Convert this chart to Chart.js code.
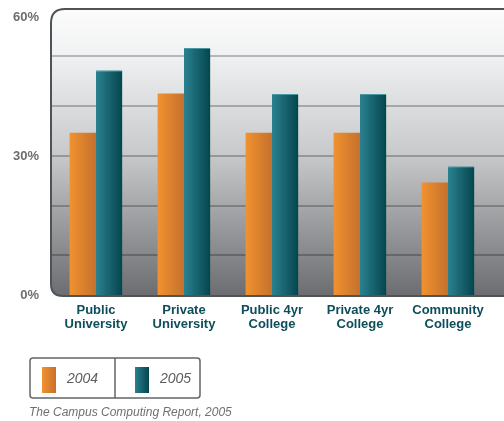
<!DOCTYPE html>
<html>
<head>
<meta charset="utf-8">
<script src="https://cdn.jsdelivr.net/npm/chart.js@4/dist/chart.umd.min.js"></script>
<style>
  html, body { margin: 0; padding: 0; background: #fff; }
  #wrap { width: 504px; height: 421px; position: relative; }
</style>
</head>
<body>
<div id="wrap"><canvas id="chart"></canvas></div>
<script>
// data
const categories = [['Public', 'University'], ['Private', 'University'], ['Public 4yr', 'College'], ['Private 4yr', 'College'], ['Community', 'College']];
const series2004 = [35, 43.5, 35, 35, 24.3];
const series2005 = [48.5, 53.3, 43.4, 43.4, 27.8];
const seriesLabels = ['2004', '2005'];
const tickLabels = [0, 30, 60];
const gridValues = [8.6, 19.3, 30, 40.7, 51.5];
const sourceNote = 'The Campus Computing Report, 2005';

const orangeStops = ['#f2922f', '#c5712d'];
const tealStops = ['#2b8190', '#04454d'];

function roundRect(c, x, y, w, h, r) {
  c.beginPath();
  c.moveTo(x + r.tl, y);
  c.lineTo(x + w - r.tr, y);
  c.quadraticCurveTo(x + w, y, x + w, y + r.tr);
  c.lineTo(x + w, y + h - r.br);
  c.quadraticCurveTo(x + w, y + h, x + w - r.br, y + h);
  c.lineTo(x + r.bl, y + h);
  c.quadraticCurveTo(x, y + h, x, y + h - r.bl);
  c.lineTo(x, y + r.tl);
  c.quadraticCurveTo(x, y, x + r.tl, y);
  c.closePath();
}

// panel behind the plot, grid lines, bar gradients, legend and source line
const panel = {
  id: 'panel',
  beforeDraw(chart) {
    const c = chart.ctx;
    const a = chart.chartArea;
    const x = a.left - 1, y = 9, w = 520 - x, h = a.bottom + 1 - y;
    const g = c.createLinearGradient(0, y, 0, y + h);
    g.addColorStop(0, '#fcfcfc');
    g.addColorStop(0.15, '#f1f2f3');
    g.addColorStop(0.5, '#c9cacc');
    g.addColorStop(1, '#6c6d70');
    c.save();
    roundRect(c, x, y, w, h, { tl: 14, tr: 14, br: 12, bl: 12 });
    c.fillStyle = g;
    c.fill();
    c.lineWidth = 2;
    c.strokeStyle = '#4e5355';
    c.stroke();
    c.restore();
  },
  beforeDatasetsDraw(chart) {
    const c = chart.ctx;
    const a = chart.chartArea;
    const yScale = chart.scales.y;
    // grid lines run to the right edge of the panel
    c.save();
    c.strokeStyle = 'rgba(0,0,0,0.24)';
    c.lineWidth = 2;
    gridValues.forEach(v => {
      const py = Math.round(yScale.getPixelForValue(v));
      c.beginPath();
      c.moveTo(a.left, py);
      c.lineTo(chart.width, py);
      c.stroke();
    });
    c.restore();
    chart.data.datasets.forEach((ds, i) => {
      const stops = ds.stops;
      chart.getDatasetMeta(i).data.forEach(bar => {
        const half = bar.width / 2;
        const g = c.createLinearGradient(bar.x - half, 0, bar.x + half, 0);
        g.addColorStop(0, stops[0]);
        g.addColorStop(1, stops[1]);
        bar.options = Object.assign({}, bar.options, { backgroundColor: g });
      });
    });
  },
  afterDraw(chart) {
    const c = chart.ctx;
    c.save();
    // legend box
    roundRect(c, 30, 358, 170, 40, { tl: 3, tr: 3, br: 3, bl: 3 });
    c.lineWidth = 1.5;
    c.strokeStyle = '#62666a';
    c.stroke();
    c.beginPath();
    c.moveTo(115, 358);
    c.lineTo(115, 398);
    c.stroke();
    chart.data.datasets.forEach((ds, i) => {
      const sx = 42 + i * 93;
      const g = c.createLinearGradient(sx, 0, sx + 14, 0);
      g.addColorStop(0, ds.stops[0]);
      g.addColorStop(1, ds.stops[1]);
      c.fillStyle = g;
      c.fillRect(sx, 367, 14, 26);
      c.fillStyle = '#5b5d60';
      c.font = 'italic 14px "Liberation Sans", Arial, sans-serif';
      c.textBaseline = 'middle';
      c.textAlign = 'left';
      c.fillText(ds.label, sx + 25, 379);
    });
    c.font = 'italic 12px "Liberation Sans", Arial, sans-serif';
    c.fillStyle = '#6d6f72';
    c.fillText(sourceNote, 29, 413);
    c.restore();
  }
};

new Chart(document.getElementById('chart'), {
  type: 'bar',
  data: {
    labels: categories,
    datasets: [
      { label: seriesLabels[0], data: series2004, backgroundColor: orangeStops[0], stops: orangeStops },
      {
        label: seriesLabels[1], data: series2005, backgroundColor: tealStops[0], stops: tealStops,
        borderColor: '#4b97a2', borderWidth: { top: 1, left: 0, right: 0, bottom: 0 }
      }
    ]
  },
  options: {
    responsive: true,
    maintainAspectRatio: false,
    animation: false,
    layout: { padding: { top: 17, right: 12, left: 0, bottom: 0 } },
    plugins: { legend: { display: false }, tooltip: { enabled: false } },
    datasets: { bar: { categoryPercentage: 0.6, barPercentage: 1 } },
    scales: {
      x: {
        afterFit(scale) { scale.height = 126; scale.paddingLeft = 0; scale.paddingRight = 0; },
        grid: { display: false },
        border: { display: false },
        ticks: {
          padding: 1,
          maxRotation: 0,
          color: '#0c4e59',
          font: { family: '"Liberation Sans", Arial, sans-serif', size: 13, weight: 'bold', lineHeight: 1.05 }
        }
      },
      y: {
        min: 0,
        max: 60,
        afterFit(scale) { scale.width = 52; scale.paddingTop = 0; scale.paddingBottom = 0; },
        afterBuildTicks(scale) { scale.ticks = tickLabels.map(v => ({ value: v })); },
        border: { display: false },
        grid: { display: false },
        ticks: {
          padding: 5,
          color: '#6b6d70',
          font: { family: '"Liberation Sans", Arial, sans-serif', size: 13, weight: 'bold' },
          callback: v => v + '%'
        }
      }
    }
  },
  plugins: [panel]
});
</script>
</body>
</html>
